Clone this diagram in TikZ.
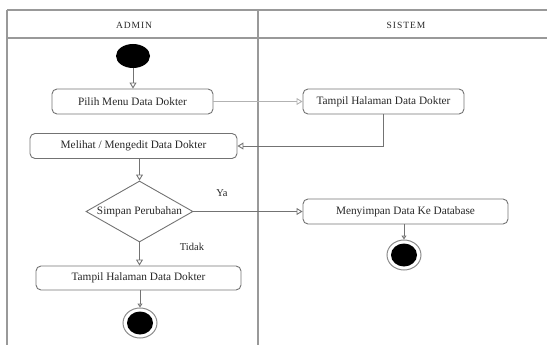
\documentclass[tikz,border=0pt]{standalone}
\usepackage{fontspec}
\setmainfont{Liberation Serif}
\usetikzlibrary{arrows.meta,shapes.geometric}
\begin{document}
\begin{tikzpicture}[x=1pt,y=-1pt,
  every node/.style={font=\fontsize{11.3}{13}\selectfont, text=black!85},
  act/.style={draw=black!55, line width=0.9pt, rounded corners=5pt, minimum height=25pt, inner sep=0pt},
  flow/.style={draw=black!55, line width=0.9pt, -{Triangle[open,length=6pt,width=7pt]}},
  endflow/.style={draw=black!55, line width=0.9pt, -{Triangle[open,length=4pt,width=5pt]}},
  lane/.style={draw=black!40, line width=1.5pt},
  head/.style={font=\fontsize{9.5}{11}\selectfont\addfontfeatures{LetterSpace=10}},
  startdot/.style={ellipse, fill=black, minimum width=34pt, minimum height=24pt, inner sep=0pt},
  endring/.style={ellipse, draw=black!45, line width=1pt, fill=white, minimum width=34pt, minimum height=30pt, inner sep=0pt},
  enddot/.style={ellipse, fill=black, minimum width=26pt, minimum height=23pt, inner sep=0pt},
  guard/.style={font=\fontsize{10.5}{12}\selectfont}]
\useasboundingbox (0,0) rectangle (547,345);
% swimlanes
\draw[lane] (7,10) -- (547,10);
\draw[lane] (7,38) -- (547,38);
\draw[lane] (7,10) -- (7,345);
\draw[lane] (258,10) -- (258,345);
\node[head] (hA) at (134,25) {ADMIN};
\node[head] (hS) at (406,25) {SISTEM};
% nodes
\node[startdot] (start) at (133,56) {};
\node[act, minimum width=161pt] (pilih) at (132.5,101.5) {Pilih Menu Data Dokter};
\node[act, minimum width=161pt] (tampilS) at (383.5,101.5) {Tampil Halaman Data Dokter};
\node[act, minimum width=207pt] (lihat) at (133.5,146) {Melihat / Mengedit Data Dokter};
\node[draw=black!55, line width=0.9pt, diamond, minimum width=107pt, minimum height=61pt, inner sep=0pt] (dia) at (139.5,211.5) {};
\node (diat) at (dia.center) {Simpan Perubahan};
\node[act, minimum width=205pt] (simpan) at (405.5,211.5) {Menyimpan Data Ke Database};
\node[act, minimum width=205pt, minimum height=24pt] (tampilA) at (138.5,278) {Tampil Halaman Data Dokter};
\node[endring] (endA) at (140,323) {};
\node[enddot] (endAd) at (endA.center) {};
\node[endring] (endS) at (404,255) {};
\node[enddot] (endSd) at (endS.center) {};
\node[guard] (ya) at (222,193) {Ya};
\node[guard] (tidak) at (192,247) {Tidak};
% connectors
\draw[flow] (start.south) -- (start.south |- pilih.north);
\draw[flow, draw=black!30] (pilih.east) -- (tampilS.west);
\draw[flow] (tampilS.south) |- (lihat.east);
\draw[flow] (lihat.south -| dia.north) -- (dia.north);
\draw[flow] (dia.east) -- (simpan.west);
\draw[flow] (dia.south) -- (dia.south |- tampilA.north);
\draw[endflow] (endS.north |- simpan.south) -- (endS.north);
\draw[endflow] (endA.north |- tampilA.south) -- (endA.north);
\end{tikzpicture}
\end{document}
